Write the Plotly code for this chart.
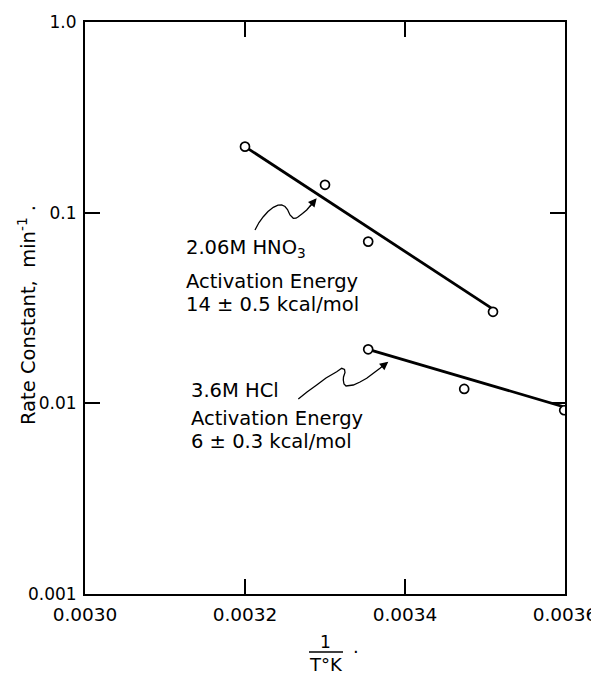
import plotly.graph_objects as go

# ---- data ----
hno3_x = [0.00320, 0.00330, 0.003354, 0.00351]
hno3_y = [0.222, 0.140, 0.0705, 0.0302]
hno3_fit_x = [0.00320, 0.00351]
hno3_fit_y = [0.222, 0.0312]

hcl_x = [0.003354, 0.003474, 0.003599]
hcl_y = [0.0192, 0.0119, 0.0092]
hcl_fit_x = [0.003354, 0.00360]
hcl_fit_y = [0.0192, 0.00955]

x_tickvals = [0.0030, 0.0032, 0.0034, 0.0036]
x_ticktext = ["0.0030", "0.0032", "0.0034", "0.0036"]
y_tickvals = [0.001, 0.01, 0.1, 1.0]
y_ticktext = ["0.001", "0.01", "0.1", "1.0"]

FONT = "DejaVu Sans"
OFF = 8  # page body margin in the browser
W, H = 599 - OFF, 675 - OFF
L, R, T, B = 85 - OFF, 34, 22 - OFF, 81
PW, PH = W - L - R, H - T - B


def pp(x, y):
    """reference-pixel -> paper coords"""
    x, y = x - OFF, y - OFF
    return (x - L) / PW, (H - B - y) / PH


def path_from(points):
    s = ""
    for i, (x, y) in enumerate(points):
        px, py = pp(x, y)
        s += ("M" if i == 0 else "L") + f"{px:.5f},{py:.5f} "
    return s.strip()


fig = go.Figure()

fig.add_trace(go.Scatter(x=hno3_fit_x, y=hno3_fit_y, mode="lines",
                         line=dict(color="black", width=2.8), showlegend=False))
fig.add_trace(go.Scatter(x=hcl_fit_x, y=hcl_fit_y, mode="lines",
                         line=dict(color="black", width=2.8), showlegend=False))
fig.add_trace(go.Scatter(x=hno3_x, y=hno3_y, mode="markers",
                         marker=dict(symbol="circle", size=9, color="white",
                                     line=dict(color="black", width=1.7)),
                         showlegend=False, cliponaxis=True))
fig.add_trace(go.Scatter(x=hcl_x, y=hcl_y, mode="markers",
                         marker=dict(symbol="circle", size=9, color="white",
                                     line=dict(color="black", width=1.7)),
                         showlegend=False, cliponaxis=True))

# squiggly arrows
hno3_squiggle = [(255, 230), (259, 222.5), (263.3, 216.7), (268, 211.5), (273.3, 207.3),
                 (278, 205.2), (281.7, 205), (285, 206.5), (287.5, 209.5), (290, 215),
                 (293.3, 218.3), (296, 218.2), (298.3, 216.7), (302.5, 213.5),
                 (306.7, 210), (311, 205), (315, 200)]
hcl_squiggle = [(298.3, 399), (307, 392), (316.7, 385), (326, 378), (336.7, 371.7),
                (341.7, 368.3), (344.5, 369.5), (345, 372.5), (343.5, 377), (343.3, 380),
                (344, 384), (346, 386), (353.3, 385), (360, 382), (366.7, 378.3),
                (373, 373.5), (380, 368.3), (386, 363.3)]

shapes = []
for pts in (hno3_squiggle, hcl_squiggle):
    shapes.append(dict(type="path", xref="paper", yref="paper", path=path_from(pts),
                       line=dict(color="black", width=1.3)))

annotations = []


def arrowhead(tip, ax, ay):
    x, y = pp(*tip)
    annotations.append(dict(x=x, y=y, xref="paper", yref="paper", text="",
                            showarrow=True, arrowhead=2, arrowsize=1.3, arrowwidth=1.3,
                            arrowcolor="black", ax=ax, ay=ay))


arrowhead((316.7, 198.3), -8, 9.5)
arrowhead((388.3, 361.7), -8, 6.5)


def label(text, x, y, size=19.5, xanchor="left", **kw):
    px, py = pp(x, y)
    annotations.append(dict(x=px, y=py, xref="paper", yref="paper", text=text,
                            showarrow=False, xanchor=xanchor, yanchor="middle",
                            font=dict(family=FONT, size=size, color="black"), **kw))


label("2.06M HNO<sub>3</sub>", 184, 248)
label("Activation Energy", 184, 281)
label("14 ± 0.5 kcal/mol", 184, 304)
label("3.6M HCl", 189, 390)
label("Activation Energy", 189, 418)
label("6 ± 0.3 kcal/mol", 189, 441)

# y-axis title
label("Rate Constant,  min<sup>-1</sup> .", 27, 315, size=19.5, xanchor="center", textangle=-90)

# x-axis title as a fraction
label("1", 325, 642, size=17, xanchor="center")
label("T°K", 326, 664, size=18, xanchor="center")
label(".", 356, 646, size=18, xanchor="center")
bx0, by = pp(309, 652)
bx1, _ = pp(343, 652)
shapes.append(dict(type="line", xref="paper", yref="paper", x0=bx0, x1=bx1, y0=by, y1=by,
                   line=dict(color="black", width=1.5)))

fig.update_layout(
    width=W, height=H,
    margin=dict(l=L, r=R, t=T, b=B, autoexpand=False),
    paper_bgcolor="white", plot_bgcolor="white",
    font=dict(family=FONT, color="black"),
    showlegend=False,
    shapes=shapes,
    annotations=annotations,
    xaxis=dict(range=[0.0030, 0.0036], tickvals=x_tickvals, ticktext=x_ticktext,
               ticks="inside", ticklen=15, tickwidth=1.5, tickcolor="black",
               showline=True, linecolor="black", linewidth=2, mirror="ticks",
               showgrid=False, zeroline=False, ticklabelstandoff=3, automargin=False,
               tickfont=dict(family=FONT, size=18.5, color="black")),
    yaxis=dict(type="log", range=[-3, 0], tickvals=y_tickvals, ticktext=y_ticktext,
               ticks="inside", ticklen=15, tickwidth=1.5, tickcolor="black",
               showline=True, linecolor="black", linewidth=2, mirror="ticks",
               showgrid=False, zeroline=False, ticklabelstandoff=3, automargin=False,
               tickfont=dict(family=FONT, size=17, color="black")),
)

fig.write_html("out.html")
